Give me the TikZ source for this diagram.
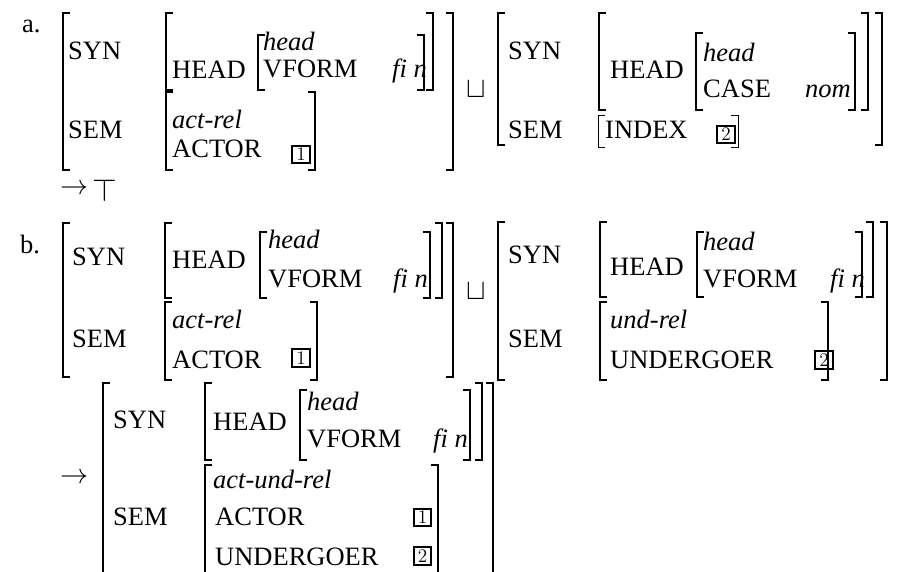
\documentclass[tikz,border=0pt]{standalone}
\usepackage{fix-cm}
\usepackage{fontspec}
\setmainfont{Liberation Serif}
\begin{document}
\begin{tikzpicture}[x=1pt,y=-1pt,
  feat/.style={anchor=base west,inner sep=0pt,font=\fontsize{26.5}{30}\selectfont},
  typ/.style={feat,font=\fontsize{26.5}{30}\selectfont\itshape},
  tagbox/.style={draw,line width=1.6pt,minimum size=17.5pt,inner sep=0pt,
                 font=\fontsize{16}{16}\selectfont},
  brk/.style={line width=1.8pt},
  thinbrk/.style={line width=0.9pt},
  sym/.style={inner sep=0pt,font=\fontsize{26.5}{30}\selectfont}]
\useasboundingbox (0,0) rectangle (901,571);
\clip (0,0) rectangle (901,571);
% left bracket: x, top, bottom; right bracket likewise
\newcommand\avmL[4][brk]{\draw[#1] (#2+7,#3) -- (#2,#3) -- (#2,#4) -- (#2+7,#4);}
\newcommand\avmR[4][brk]{\draw[#1] (#2-7,#3) -- (#2,#3) -- (#2,#4) -- (#2-7,#4);}
\newcommand\tagnum[1]{\scalebox{1.2}{$#1$}}

% ---------------- (a) ----------------
\node[feat] (la) at (22,32) {a.};
% first structure
\avmL{63}{13}{170} \avmR{453}{13}{170}
\node[feat] (a1syn) at (68,59) {SYN};
\node[feat] (a1sem) at (68,138) {SEM};
\avmL{166}{13}{90} \avmR{433}{13}{90}
\node[feat] (a1head) at (172,78) {HEAD};
\avmL{258}{35}{90} \avmR{424}{35}{90}
\node[typ] (a1ht) at (263,50) {head};
\node[feat] (a1vf) at (263,77) {VFORM};
\node[typ] (a1fin) at (392,77) {fi n};
\avmL{166}{92}{170} \avmR{315}{92}{170}
\node[typ] (a1rel) at (172,128) {act-rel};
\node[feat] (a1act) at (172,157) {ACTOR};
\node[tagbox] (a1t1) at (301,154.5) {\tagnum{1}};
% join
\node[sym] (a1join) at (476,89) {\scalebox{1.1}{$\sqcup$}};
% second structure
\avmL{498}{13}{145} \avmR{882}{13}{145}
\node[feat] (a2syn) at (508,59) {SYN};
\node[feat] (a2sem) at (508,138) {SEM};
\avmL{599}{13}{110} \avmR{868}{13}{110}
\node[feat] (a2head) at (610,78) {HEAD};
\avmL{696}{33}{110} \avmR{855}{33}{110}
\node[typ] (a2ht) at (703,61) {head};
\node[feat] (a2case) at (703,97) {CASE};
\node[typ] (a2nom) at (805,97) {nom};
\avmL[thinbrk]{598}{115}{147} \avmR[thinbrk]{738}{115}{147}
\node[feat] (a2idx) at (605,138) {INDEX};
\node[tagbox] (a2t2) at (726,134.5) {\tagnum{2}};
% result
\node[sym,anchor=west,font=\fontsize{28}{30}\selectfont] (aarrow) at (60,189) {$\rightarrow$};
\node[sym] (atop) at (105,190) {\scalebox{1.2}{$\top$}};

% ---------------- (b) ----------------
\node[feat] (lb) at (20,253) {b.};
% first structure
\avmL{63}{223}{377} \avmR{453}{223}{377}
\node[feat] (b1syn) at (72,265) {SYN};
\node[feat] (b1sem) at (72,347) {SEM};
\avmL{165}{223}{298} \avmR{442}{223}{298}
\node[feat] (b1head) at (172,268) {HEAD};
\avmL{260}{232}{298} \avmR{430}{232}{298}
\node[typ] (b1ht) at (268,248) {head};
\node[feat] (b1vf) at (268,287) {VFORM};
\node[typ] (b1fin) at (393,287) {fi n};
\avmL{165}{302}{380} \avmR{317}{302}{380}
\node[typ] (b1rel) at (172,328) {act-rel};
\node[feat] (b1act) at (172,368) {ACTOR};
\node[tagbox] (b1t1) at (301,358) {\tagnum{1}};
% join
\node[sym] (bjoin) at (476,291) {\scalebox{1.1}{$\sqcup$}};
% second structure
\avmL{498}{222}{380} \avmR{887}{222}{380}
\node[feat] (b2syn) at (508,263) {SYN};
\node[feat] (b2sem) at (508,347) {SEM};
\avmL{600}{222}{297} \avmR{873}{222}{297}
\node[feat] (b2head) at (610,275) {HEAD};
\avmL{697}{232}{297} \avmR{862}{232}{297}
\node[typ] (b2ht) at (703,250) {head};
\node[feat] (b2vf) at (703,287) {VFORM};
\node[typ] (b2fin) at (830,287) {fi n};
\avmL{600}{302}{380} \avmR{828}{302}{380}
\node[typ] (b2rel) at (610,328) {und-rel};
\node[feat] (b2und) at (610,368) {UNDERGOER};
\node[tagbox] (b2t2) at (824,360) {\tagnum{2}};
% result
\node[sym,anchor=west,font=\fontsize{28}{30}\selectfont] (barrow) at (60,478) {$\rightarrow$};
\avmL{103}{383}{600} \avmR{493}{383}{600}
\node[feat] (b3syn) at (113,428) {SYN};
\node[feat] (b3sem) at (113,525) {SEM};
\avmL{205}{383}{460} \avmR{482}{383}{460}
\node[feat] (b3head) at (213,430) {HEAD};
\avmL{300}{390}{460} \avmR{470}{390}{460}
\node[typ] (b3ht) at (307,410) {head};
\node[feat] (b3vf) at (307,447) {VFORM};
\node[typ] (b3fin) at (433,447) {fi n};
\avmL{205}{465}{600} \avmR{438}{465}{600}
\node[typ] (b3rel) at (213,488) {act-und-rel};
\node[feat] (b3act) at (215,525) {ACTOR};
\node[tagbox] (b3t1) at (422.5,517.5) {\tagnum{1}};
\node[feat] (b3und) at (215,565) {UNDERGOER};
\node[tagbox] (b3t2) at (422.5,556) {\tagnum{2}};
\end{tikzpicture}
\end{document}
